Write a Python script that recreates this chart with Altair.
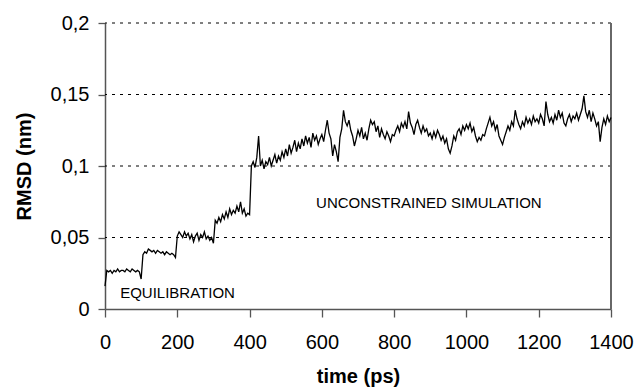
import altair as alt
import pandas as pd

# ---- data ----
time_ps = list(range(0, 1401, 5))
rmsd_nm = [
    # 0-95
    0.016, 0.027, 0.026, 0.027, 0.025, 0.027, 0.026, 0.028, 0.026, 0.027,
    0.027, 0.026, 0.028, 0.027, 0.026, 0.028, 0.027, 0.026, 0.027, 0.026,
    # 100-195
    0.021, 0.038, 0.040, 0.039, 0.042, 0.041, 0.040, 0.041, 0.039, 0.041,
    0.040, 0.039, 0.040, 0.038, 0.040, 0.039, 0.038, 0.039, 0.038, 0.036,
    # 200-295
    0.051, 0.054, 0.052, 0.050, 0.054, 0.051, 0.053, 0.049, 0.052, 0.047,
    0.051, 0.053, 0.048, 0.052, 0.050, 0.054, 0.049, 0.051, 0.048, 0.050,
    # 300-395
    0.046, 0.062, 0.060, 0.064, 0.061, 0.066, 0.063, 0.068, 0.064, 0.070,
    0.066, 0.069, 0.067, 0.072, 0.068, 0.075, 0.067, 0.070, 0.065, 0.067,
    # 400-495
    0.066, 0.100, 0.103, 0.099, 0.106, 0.121, 0.100, 0.104, 0.098, 0.103,
    0.101, 0.106, 0.100, 0.104, 0.108, 0.102, 0.107, 0.104, 0.110, 0.106,
    # 500-595
    0.112, 0.107, 0.115, 0.109, 0.113, 0.118, 0.110, 0.116, 0.112, 0.119,
    0.114, 0.121, 0.116, 0.120, 0.113, 0.123, 0.118, 0.121, 0.115, 0.119,
    # 600-695
    0.122, 0.117, 0.125, 0.132, 0.123, 0.119, 0.107, 0.115, 0.110, 0.103,
    0.120, 0.126, 0.139, 0.131, 0.128, 0.132, 0.125, 0.121, 0.114, 0.119,
    # 700-795
    0.125, 0.121, 0.127, 0.119, 0.123, 0.118, 0.126, 0.132, 0.129, 0.131,
    0.124, 0.128, 0.120, 0.126, 0.122, 0.119, 0.124, 0.121, 0.117, 0.122,
    # 800-895
    0.121, 0.125, 0.128, 0.124, 0.130, 0.127, 0.131, 0.126, 0.138, 0.130,
    0.127, 0.122, 0.129, 0.132, 0.127, 0.123, 0.128, 0.124, 0.126, 0.121,
    # 900-995
    0.123, 0.119, 0.124, 0.120, 0.125, 0.122, 0.118, 0.121, 0.116, 0.119,
    0.112, 0.109, 0.114, 0.121, 0.118, 0.124, 0.126, 0.122, 0.128, 0.125,
    # 1000-1095
    0.129, 0.126, 0.130, 0.124, 0.127, 0.121, 0.117, 0.120, 0.118, 0.122,
    0.121, 0.126, 0.130, 0.134, 0.128, 0.131, 0.125, 0.129, 0.121, 0.118,
    # 1100-1195
    0.115, 0.120, 0.124, 0.128, 0.125, 0.131, 0.128, 0.139, 0.133, 0.129,
    0.126, 0.131, 0.128, 0.134, 0.130, 0.133, 0.129, 0.135, 0.131, 0.133,
    # 1200-1295
    0.130, 0.136, 0.133, 0.128, 0.145, 0.136, 0.131, 0.134, 0.130, 0.136,
    0.132, 0.139, 0.134, 0.137, 0.130, 0.128, 0.133, 0.136, 0.131, 0.135,
    # 1300-1400
    0.133, 0.137, 0.132, 0.136, 0.140, 0.149, 0.138, 0.134, 0.139, 0.131,
    0.137, 0.133, 0.128, 0.131, 0.117, 0.127, 0.133, 0.129, 0.135, 0.131,
    0.134,
]
x_ticks = [0, 200, 400, 600, 800, 1000, 1200, 1400]
y_ticks = [0, 0.05, 0.1, 0.15, 0.2]
grid_values = [0.05, 0.1, 0.15, 0.2]
note_text = ["EQUILIBRATION", "UNCONSTRAINED SIMULATION"]
note_time = [42, 584]
note_rmsd = [0.0114, 0.0739]

FONT = "Liberation Sans"

df = pd.DataFrame({"time": time_ps, "rmsd": rmsd_nm})
grid_df = pd.DataFrame({"rmsd": grid_values})
notes_df = pd.DataFrame({"time": note_time, "rmsd": note_rmsd, "text": note_text})

x_scale = alt.Scale(domain=[0, 1400], nice=False, zero=False)
y_scale = alt.Scale(domain=[0, 0.2], nice=False, zero=False)

x_axis = alt.Axis(
    values=x_ticks,
    title="time (ps)",
    grid=False,
    format="d",
    labelFontSize=20,
    labelPadding=15,
    tickSize=8,
    titlePadding=14,
    labelFlush=False,
)
y_axis = alt.Axis(
    values=y_ticks,
    title="RMSD (nm)",
    grid=False,
    labelFontSize=20,
    labelPadding=9,
    tickSize=7,
    titlePadding=16,
    labelExpr="replace(toString(datum.value), '.', ',')",
)

grid = alt.Chart(grid_df).mark_rule(
    color="black", strokeDash=[3, 5], strokeWidth=1
).encode(y=alt.Y("rmsd:Q", scale=y_scale, axis=y_axis))

border = alt.Chart(grid_df).mark_rule(color="#666666", strokeWidth=1.3).encode(
    x=alt.value(506), y=alt.value(0), y2=alt.value(286)
)

line = alt.Chart(df).mark_line(color="black", strokeWidth=1.3).encode(
    x=alt.X("time:Q", scale=x_scale, axis=x_axis),
    y=alt.Y("rmsd:Q", scale=y_scale, axis=y_axis),
)

notes = alt.Chart(notes_df).mark_text(
    align="left", baseline="middle", fontSize=15, font=FONT, color="black"
).encode(
    x=alt.X("time:Q", scale=x_scale, axis=x_axis),
    y=alt.Y("rmsd:Q", scale=y_scale, axis=y_axis),
    text="text:N",
)

chart = (
    alt.layer(grid, border, line, notes)
    .properties(
        width=506,
        height=286,
        autosize=alt.AutoSizeParams(type="none"),
        padding={"left": 105, "top": 23, "right": 27, "bottom": 81},
        background="white",
    )
    .configure_view(stroke=None)
    .configure_axis(
        labelFont=FONT,
        titleFont=FONT,
        labelColor="black",
        titleColor="black",
        titleFontSize=20,
        titleFontWeight="bold",
        domainColor="#555555",
        domainWidth=1.5,
        tickColor="#555555",
        tickWidth=1.3,
    )
)

chart.save("out.html", embed_options={"renderer": "svg", "actions": False})
